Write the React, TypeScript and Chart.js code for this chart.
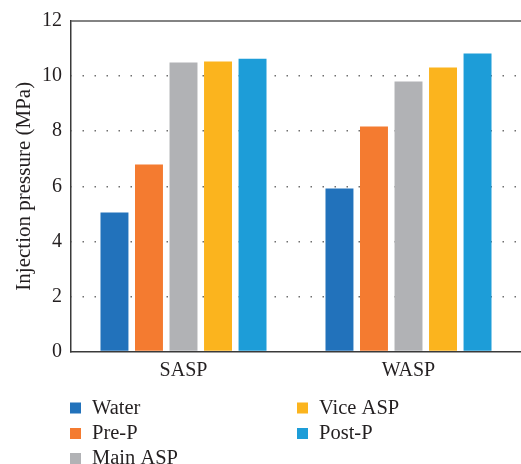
import React, { useEffect, useRef } from "react";
import { Chart, registerables } from "chart.js";

Chart.register(...registerables);

const categories = ["SASP", "WASP"];
const seriesNames = ["Water", "Pre-P", "Main ASP", "Vice ASP", "Post-P"];
const water = [5.05, 5.92];
const preP = [6.79, 8.17];
const mainASP = [10.49, 9.8];
const viceASP = [10.53, 10.31];
const postP = [10.63, 10.82];
const seriesColors = ["#2272BB", "#F47B30", "#B1B2B5", "#FBB41E", "#1D9DD8"];
const yTicks = [0, 2, 4, 6, 8, 10, 12];

const FONT = "'Liberation Serif', 'DejaVu Serif', serif";

const framePlugin = {
  id: "frameTop",
  afterDatasetsDraw(chart: any) {
    const { ctx, chartArea } = chart;
    ctx.save();
    ctx.strokeStyle = "#5a5a5a";
    ctx.lineWidth = 1.5;
    ctx.beginPath();
    ctx.moveTo(chartArea.left, chartArea.top);
    ctx.lineTo(chartArea.right, chartArea.top);
    ctx.stroke();
    ctx.restore();
  },
};

const legendPlugin = {
  id: "customLegend",
  afterDraw(chart: any) {
    const ctx = chart.ctx;
    ctx.save();
    ctx.font = `20.5px ${FONT}`;
    ctx.textBaseline = "alphabetic";
    ctx.textAlign = "left";
    const cols = [70, 297];
    const rows = [408, 433.5, 458.5];
    chart.data.datasets.forEach((ds: any, i: number) => {
      const col = i < 3 ? 0 : 1;
      const row = i < 3 ? i : i - 3;
      const x = cols[col];
      const y = rows[row];
      ctx.fillStyle = ds.backgroundColor;
      ctx.fillRect(x, y - 5.5, 11, 11);
      ctx.fillStyle = "#231F20";
      ctx.fillText(ds.label, x + 22, y + 5.5);
    });
    ctx.restore();
  },
};

export default function App() {
  const ref = useRef<HTMLCanvasElement>(null);
  useEffect(() => {
    document.body.style.margin = "0";
    const values = [water, preP, mainASP, viceASP, postP];
    let chart: any = null;
    let cancelled = false;
    const make = () => {
      if (cancelled || !ref.current) return;
      chart = new Chart(ref.current, {
        type: "bar",
        data: {
          labels: categories,
          datasets: seriesNames.map((name, i) => ({
            label: name,
            data: values[i],
            backgroundColor: seriesColors[i],
            categoryPercentage: 0.767,
            barPercentage: 0.81,
          })),
        },
        options: {
          animation: false,
          responsive: false,
          layout: { padding: { top: 20, right: 0, left: 0, bottom: 0 } },
          plugins: { legend: { display: false }, tooltip: { enabled: false } },
          scales: {
            x: {
              grid: { display: false, drawTicks: false },
              border: { display: true, color: "#3a3a3a", width: 1.5 },
              ticks: { font: { family: FONT, size: 20 }, color: "#231F20", padding: 7 },
              afterFit(scale: any) {
                scale.height = 112.5;
              },
            },
            y: {
              min: 0,
              max: 12,
              afterBuildTicks(scale: any) {
                scale.ticks = yTicks.map((v) => ({ value: v }));
              },
              grid: {
                drawTicks: false,
                color: (c: any) =>
                  c.tick && (c.tick.value === 0 || c.tick.value === 12) ? "rgba(0,0,0,0)" : "#6f6f6f",
                lineWidth: 1.5,
              },
              border: { display: true, color: "#3a3a3a", width: 1.5, dash: [1.5, 10.5], dashOffset: -11 },
              ticks: { font: { family: FONT, size: 20 }, color: "#231F20", padding: 9 },
              title: {
                display: true,
                text: "Injection pressure (MPa)",
                font: { family: FONT, size: 21 },
                color: "#231F20",
                padding: { top: 12, bottom: 2 },
              },
              afterFit(scale: any) {
                scale.width = 71;
              },
            },
          },
        },
        plugins: [framePlugin, legendPlugin],
      });
    };
    const fonts: any = (document as any).fonts;
    if (fonts && fonts.load) {
      Promise.all([
        fonts.load("20px 'Liberation Serif'"),
        fonts.load("21px 'Liberation Serif'"),
      ])
        .catch(() => null)
        .then(make);
    } else {
      make();
    }
    return () => {
      cancelled = true;
      if (chart) chart.destroy();
    };
  }, []);
  return <canvas ref={ref} width={521} height={464} style={{ display: "block" }} />;
}
